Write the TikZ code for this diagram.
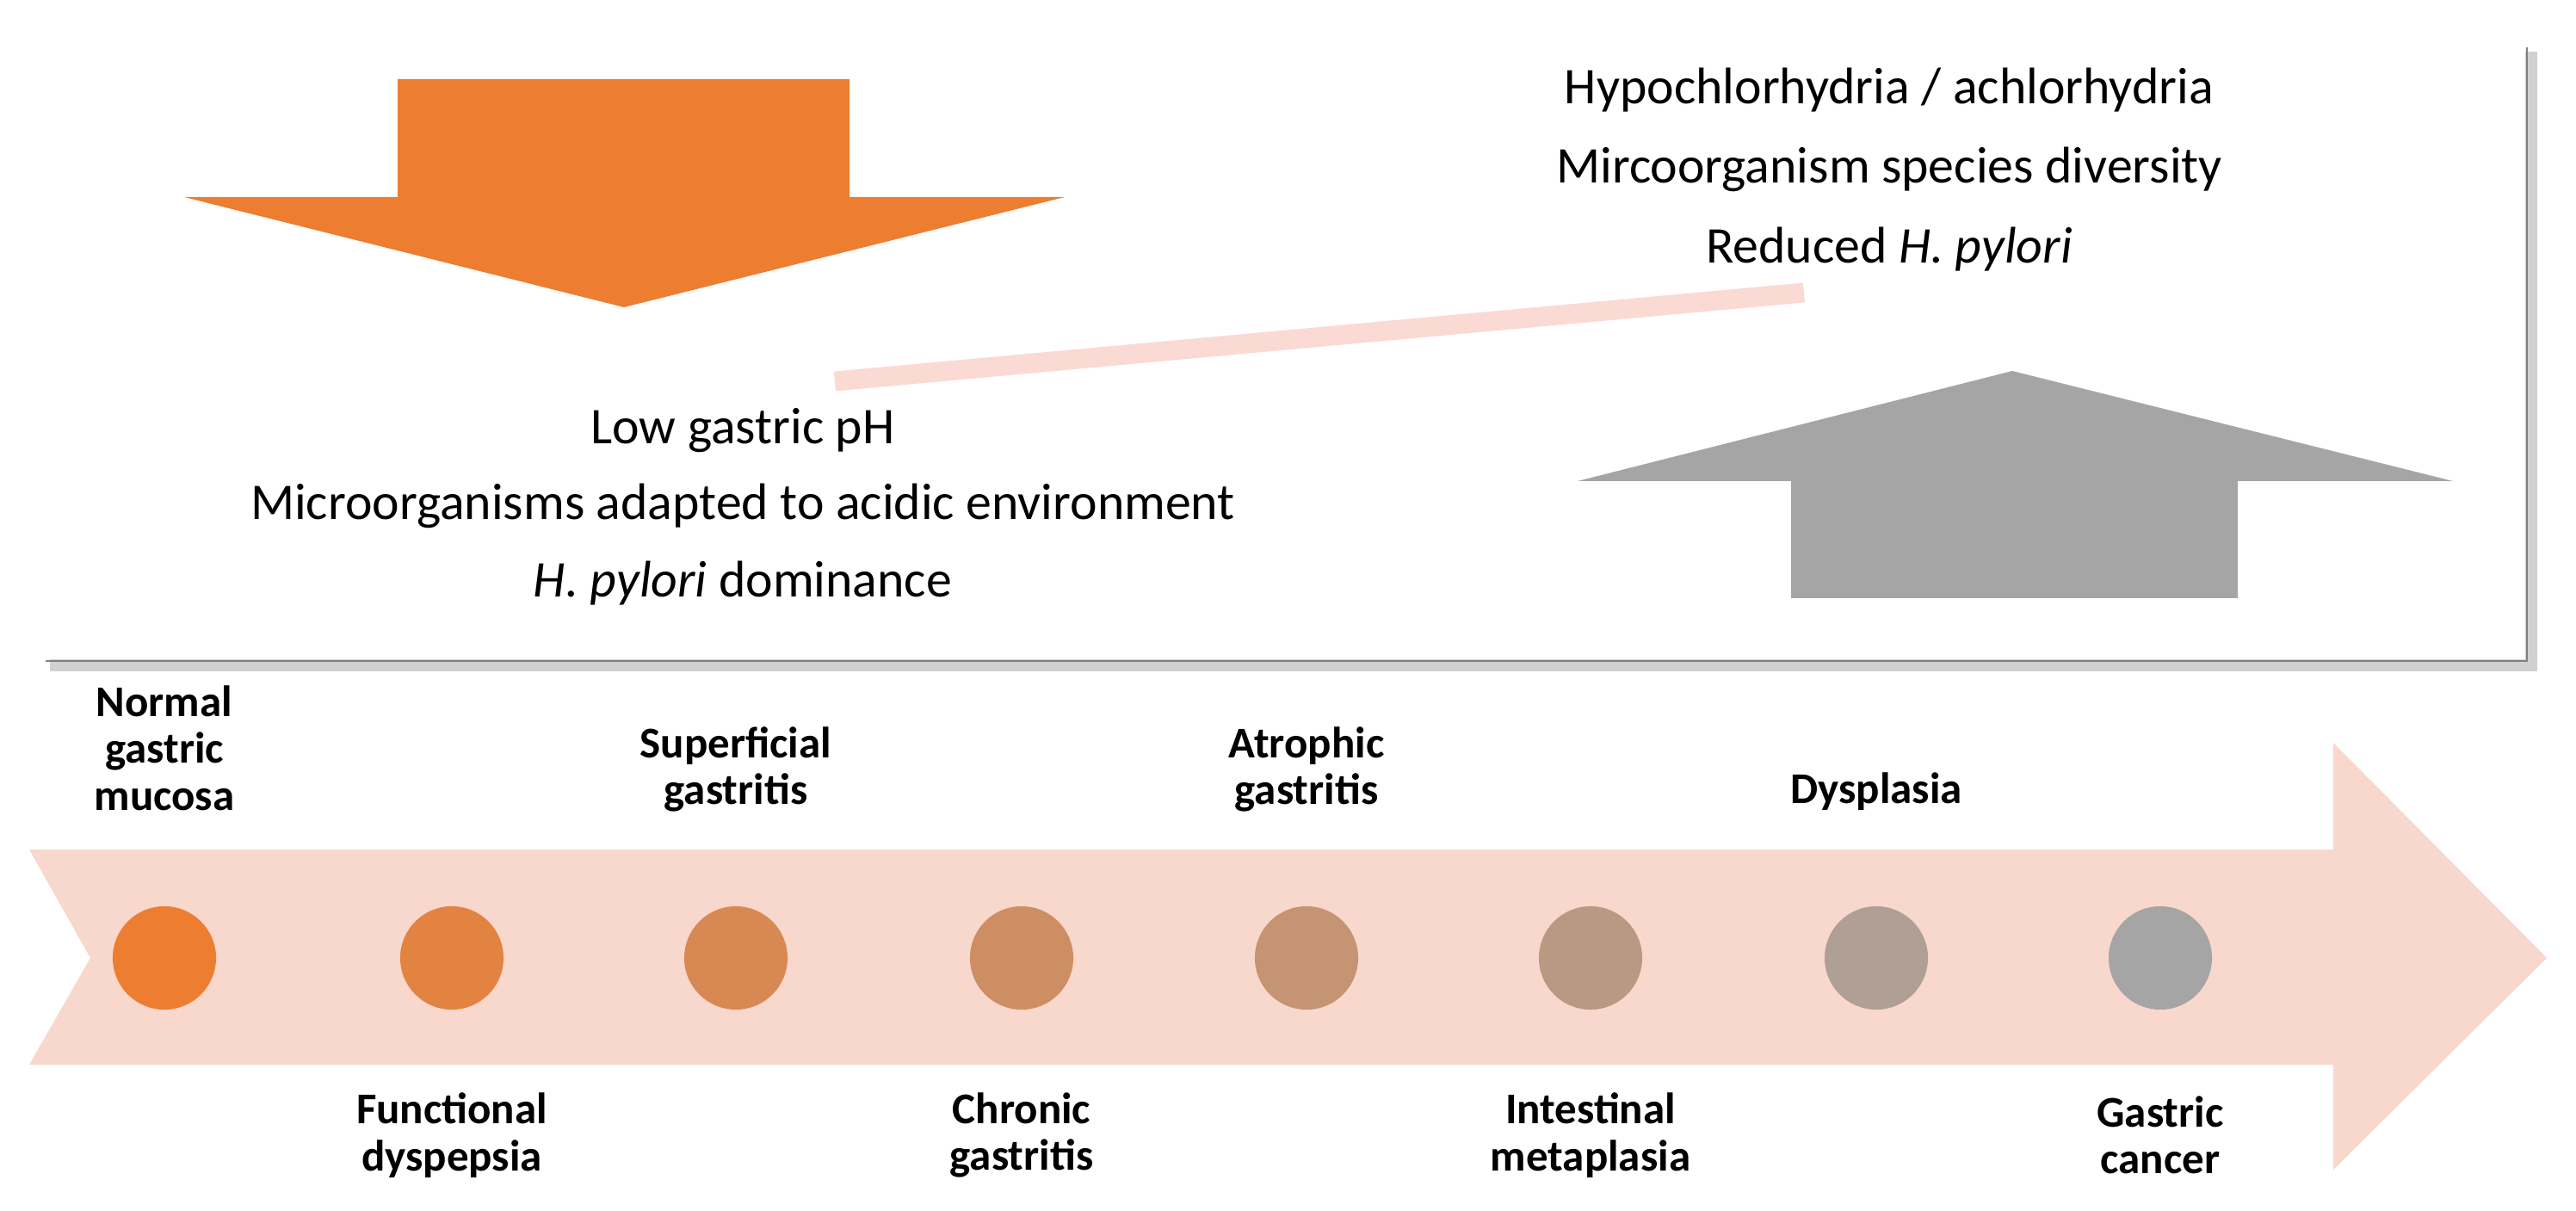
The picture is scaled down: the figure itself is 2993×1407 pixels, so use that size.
\documentclass[tikz,border=0pt]{standalone}
\usepackage{fontspec}
\setmainfont{Carlito}
\begin{document}
\begin{tikzpicture}[x=0.01cm,y=-0.01cm,
  txt/.style={font=\fontsize{17}{20}\selectfont,align=center},
  lab/.style={font=\fontsize{14.5}{15.5}\selectfont\bfseries,align=center},
  dot/.style={circle,minimum size=1.2cm,inner sep=0pt}]
\useasboundingbox (0,0) rectangle (2993,1407);
\definecolor{org}{HTML}{ED7D31}
\definecolor{gr}{HTML}{A5A5A5}
\definecolor{pk}{HTML}{F8D7CC}
% box borders with shadow
\draw[line width=4pt,black!18] (2941,60) -- (2941,773) -- (58,773);
\draw[line width=0.8pt,black!50] (2936,55) -- (2936,768) -- (53,768);
% orange down arrow
\fill[org] (462,92) -- (987,92) -- (987,229) -- (1237,229) -- (725,357) -- (214,229) -- (462,229) -- cycle;
% gray up arrow
\fill[gr] (2081,695) -- (2600,695) -- (2600,559) -- (2850,559) -- (2338,431) -- (1833,559) -- (2081,559) -- cycle;
% pink bar
\coordinate (b1) at (970,443);
\coordinate (b2) at (2096,340);
\draw[pk!90!red!60!white,line width=6.5pt] (b1) -- (b2);
% texts
\node[txt] (r1) at (2195,105) {Hypochlorhydria / achlorhydria};
\node[txt] (r2) at (2195,197) {Mircoorganism species diversity};
\node[txt] (r3) at (2195,290) {Reduced \textit{H. pylori}};
\node[txt] (l1) at (863,500) {Low gastric pH};
\node[txt] (l2) at (863,588) {Microorganisms adapted to acidic environment};
\node[txt] (l3) at (863,678) {\textit{H. pylori} dominance};
% big arrow
\fill[pk] (34,987) -- (2711,987) -- (2711,863) -- (2959,1113) -- (2711,1359) -- (2711,1237) -- (34,1237) -- (105,1113) -- cycle;
% dots
\foreach \x/\k [count=\i] in {191/100,525/86,855/71,1187/57,1518/43,1848/29,2180/14,2510/0}
  \node[dot,fill=org!\k!gr] (d\i) at (\x,1113) {};
% labels
\node[lab] (t1) at (191,869) {Normal\\gastric\\mucosa};
\node[lab] (t3) at (855,894) {Superficial\\gastritis};
\node[lab] (t5) at (1518,894) {Atrophic\\gastritis};
\node[lab] (t7) at (2180,920) {Dysplasia};
\node[lab] (t2) at (525,1319) {Functional\\dyspepsia};
\node[lab] (t4) at (1187,1319) {Chronic\\gastritis};
\node[lab] (t6) at (1848,1319) {Intestinal\\metaplasia};
\node[lab] (t8) at (2510,1319) {Gastric\\cancer};
\end{tikzpicture}
\end{document}
